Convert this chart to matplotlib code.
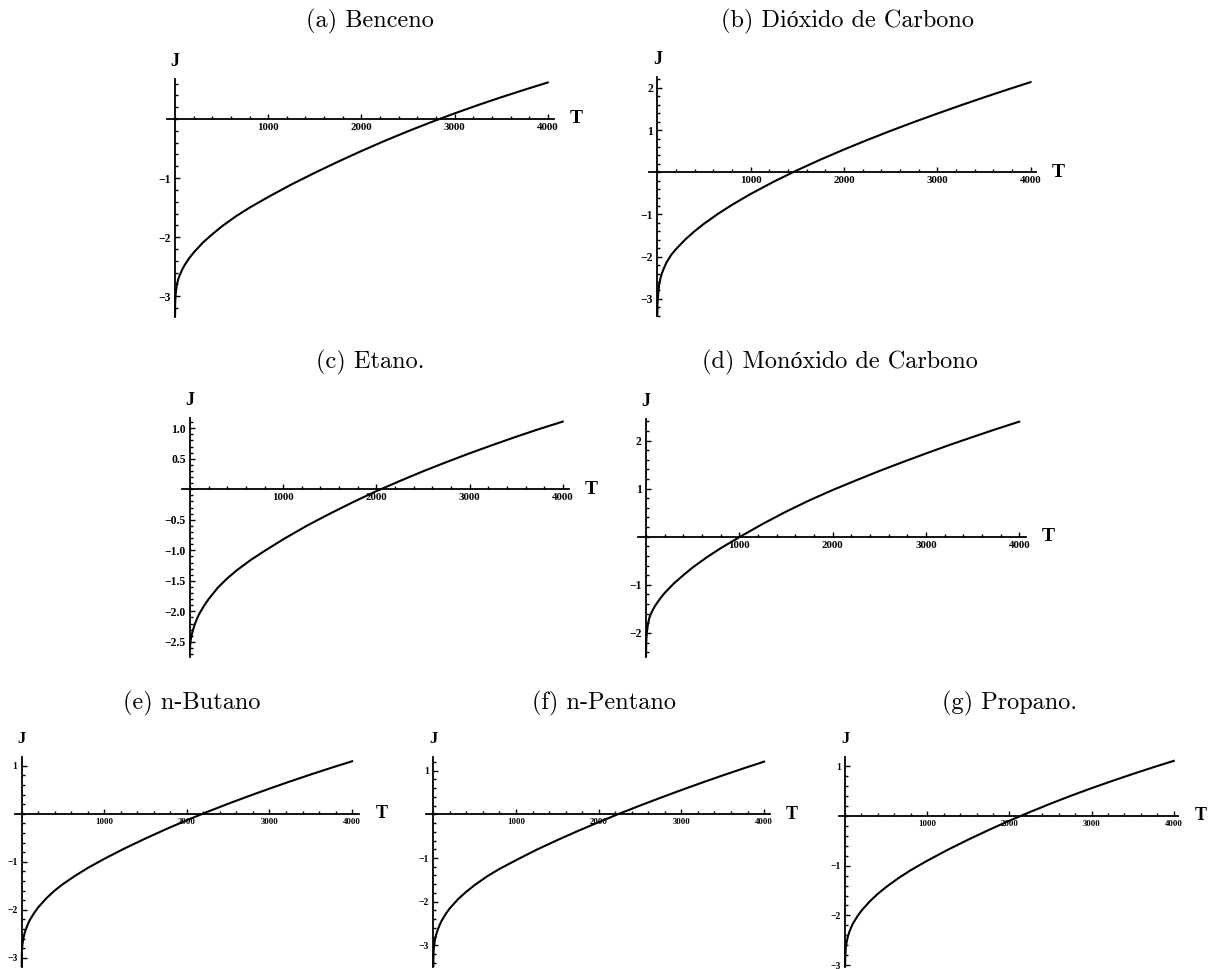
import matplotlib
matplotlib.use("Agg")
import matplotlib.pyplot as plt
from matplotlib.ticker import MultipleLocator

W, H = 1216, 969

# temperature samples shared by all curves (denser near T = 0 where J rises steeply)
t_points = [0, 2, 5, 10, 20, 35, 50, 75, 100, 150, 200, 300, 400, 500, 650, 800,
            1000, 1250, 1500, 1750, 2000, 2250, 2500, 2750, 3000, 3250, 3500, 3750, 4000]

j_benceno = [-3.40, -3.12, -3.02, -2.92, -2.80, -2.71, -2.645, -2.555, -2.48, -2.36,
             -2.26, -2.09, -1.95, -1.82, -1.65, -1.50, -1.32, -1.107, -0.91, -0.722,
             -0.542, -0.37, -0.207, -0.052, 0.095, 0.235, 0.368, 0.495, 0.618]
j_co2 = [-3.40, -3.15, -3.00, -2.87, -2.66, -2.50, -2.39, -2.25, -2.13, -1.955,
         -1.821, -1.592, -1.395, -1.22, -0.985, -0.772, -0.514, -0.22, 0.05, 0.302,
         0.539, 0.765, 0.982, 1.19, 1.39, 1.585, 1.774, 1.958, 2.136]
j_etano = [-2.62, -2.55, -2.50, -2.45, -2.38, -2.29, -2.22, -2.12, -2.04, -1.91,
           -1.80, -1.61, -1.46, -1.33, -1.16, -1.01, -0.82, -0.60, -0.40, -0.21,
           -0.03, 0.135, 0.295, 0.445, 0.59, 0.728, 0.862, 0.99, 1.11]
j_co = [-2.50, -2.22, -2.10, -1.98, -1.83, -1.69, -1.615, -1.515, -1.43, -1.29,
        -1.17, -0.97, -0.80, -0.64, -0.43, -0.24, -0.01, 0.265, 0.52, 0.755,
        0.97, 1.17, 1.365, 1.55, 1.73, 1.905, 2.072, 2.235, 2.392]
j_butano = [-3.20, -2.90, -2.80, -2.71, -2.60, -2.49, -2.41, -2.30, -2.21, -2.07,
            -1.95, -1.76, -1.60, -1.465, -1.29, -1.13, -0.94, -0.72, -0.515, -0.32,
            -0.135, 0.04, 0.2075, 0.3675, 0.5225, 0.6725, 0.8175, 0.9575, 1.0925]
j_pentano = [-3.50, -3.22, -3.10, -3.00, -2.87, -2.75, -2.66, -2.54, -2.44, -2.28,
             -2.15, -1.94, -1.77, -1.62, -1.42, -1.25, -1.05, -0.81, -0.59, -0.38,
             -0.18, 0.015, 0.20, 0.38, 0.555, 0.725, 0.89, 1.05, 1.205]
j_propano = [-3.10, -2.90, -2.78, -2.645, -2.535, -2.425, -2.345, -2.24, -2.155, -2.02,
             -1.905, -1.72, -1.565, -1.43, -1.25, -1.09, -0.90, -0.68, -0.475, -0.28,
             -0.095, 0.08, 0.248, 0.408, 0.56, 0.705, 0.845, 0.98, 1.11]

captions = ["(a) Benceno", "(b) Dióxido de Carbono", "(c) Etano.",
            "(d) Monóxido de Carbono", "(e) n-Butano", "(f) n-Pentano", "(g) Propano."]
series = [j_benceno, j_co2, j_etano, j_co, j_butano, j_pentano, j_propano]

x_ticks = [1000, 2000, 3000, 4000]
y_ticks = [
    [-3, -2, -1],
    [-3, -2, -1, 1, 2],
    [-2.5, -2.0, -1.5, -1.0, -0.5, 0.5, 1.0],
    [-2, -1, 1, 2],
    [-3, -2, -1, 1],
    [-3, -2, -1, 1],
    [-3, -2, -1, 1],
]
y_fmt = ["{:d}", "{:d}", "{:.1f}", "{:d}", "{:d}", "{:d}", "{:d}"]
y_minor = [0.2, 0.2, 0.1, 0.2, 0.2, 0.2, 0.2]

# pixel layout: origin x0,y0 / px per 1000 K / px per unit J / axis extents / caption centre
layout = [
    dict(x0=175.0, y0=119.0, kx=93.2, ky=59.1, left=167.3, right=554.3, top=79.3, bottom=316.7,
         cap=(370, 21), fs=7.8),
    dict(x0=657.3, y0=172.3, kx=93.3, ky=42.2, left=649.3, right=1036.0, top=77.3, bottom=316.0,
         cap=(848, 21), fs=7.8),
    dict(x0=190.0, y0=489.3, kx=93.2, ky=61.0, left=181.7, right=569.3, top=418.3, bottom=657.3,
         cap=(370, 362), fs=7.8),
    dict(x0=646.0, y0=536.7, kx=93.3, ky=48.1, left=638.3, right=1025.7, top=419.0, bottom=657.3,
         cap=(840, 362), fs=7.8),
    dict(x0=21.7, y0=813.7, kx=82.6, ky=48.0, left=15.0, right=359.3, top=756.7, bottom=967.0,
         cap=(192, 703), fs=6.3),
    dict(x0=433.3, y0=814.3, kx=82.7, ky=43.7, left=426.0, right=770.0, top=757.3, bottom=967.0,
         cap=(604, 703), fs=6.3),
    dict(x0=845.0, y0=816.0, kx=82.2, ky=49.7, left=839.3, right=1178.3, top=756.7, bottom=967.0,
         cap=(1010, 703), fs=6.3),
]

tick_font = dict(family="Liberation Serif", weight="bold")
cap_font = ["cmr10", "Liberation Serif"]

fig = plt.figure(figsize=(W / 100, H / 100), dpi=100)

for i, (cap, jv, lay) in enumerate(zip(captions, series, layout)):
    ax = fig.add_axes([lay["left"] / W, 1 - lay["bottom"] / H,
                       (lay["right"] - lay["left"]) / W, (lay["bottom"] - lay["top"]) / H])
    ax.set_xlim(-(lay["x0"] - lay["left"]) / lay["kx"] * 1000,
                (lay["right"] - lay["x0"]) / lay["kx"] * 1000)
    ax.set_ylim(-(lay["bottom"] - lay["y0"]) / lay["ky"],
                (lay["y0"] - lay["top"]) / lay["ky"])
    ax.patch.set_visible(False)

    ax.plot(t_points, jv, color="black", lw=1.5, solid_joinstyle="round")

    for side in ("top", "right"):
        ax.spines[side].set_visible(False)
    ax.spines["left"].set_position(("data", 0))
    ax.spines["bottom"].set_position(("data", 0))
    for side in ("left", "bottom"):
        ax.spines[side].set_linewidth(1.3)

    ax.set_xticks(x_ticks)
    ax.set_xticklabels([str(v) for v in x_ticks], **tick_font, fontsize=lay["fs"])
    ax.set_yticks(y_ticks[i])
    ax.set_yticklabels([y_fmt[i].format(v).replace("-", "\u2212") for v in y_ticks[i]],
                       **tick_font, fontsize=lay["fs"] + 0.6)
    ax.xaxis.set_minor_locator(MultipleLocator(200))
    ax.yaxis.set_minor_locator(MultipleLocator(y_minor[i]))
    ax.tick_params(which="both", direction="in", width=1.0, top=False, right=False)
    ax.tick_params(which="major", length=3.5, pad=3)
    ax.tick_params(which="minor", length=2.0)

    big = 14 if i < 4 else 13
    fig.text((lay["right"] + 22) / W, 1 - lay["y0"] / H, "T", ha="center", va="center",
             fontsize=big, **tick_font)
    fig.text(lay["x0"] / W, 1 - (lay["top"] - 18) / H, "J", ha="center", va="center",
             fontsize=big - 1, **tick_font)
    fig.text(lay["cap"][0] / W, 1 - lay["cap"][1] / H, cap, ha="center", va="center",
             fontsize=17.5, family=cap_font)

fig.savefig("out.png", dpi=100)
